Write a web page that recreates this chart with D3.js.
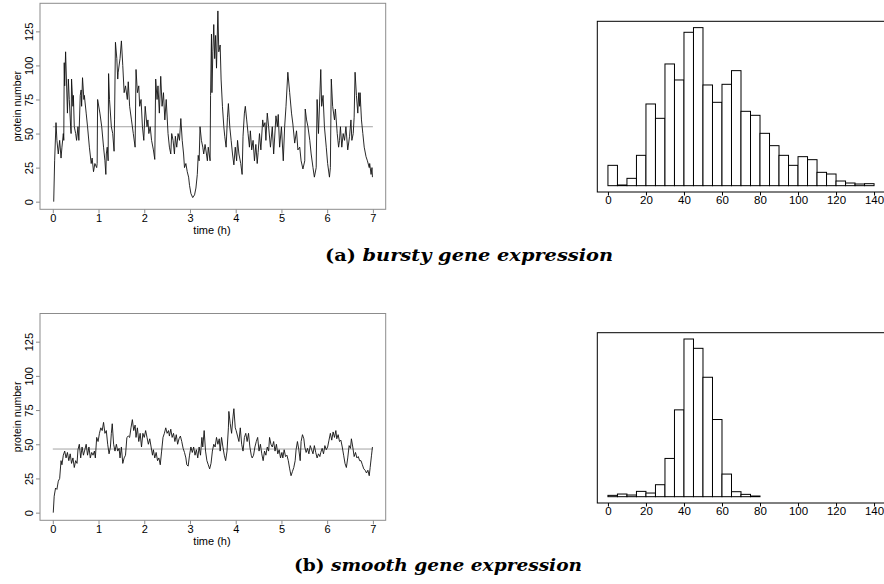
<!DOCTYPE html>
<html>
<head>
<meta charset="utf-8">
<script src="https://cdn.jsdelivr.net/npm/d3@7"></script>
<style>
  body { margin: 0; background: #fff; }
  svg text { font-family: "Liberation Sans", Arial, sans-serif; fill: #000; }
</style>
</head>
<body>
<div id="chart"></div>
<script>
// trajectories: [time (h), protein number]
const burstyTrace = [[0.02,0],[0.04,30],[0.07,58],[0.09,45],[0.12,35],[0.15,45],[0.18,32],[0.20,40],[0.23,50],[0.24,45],[0.25,102],[0.26,85],[0.28,110],[0.32,65],[0.34,90],[0.36,75],[0.39,55],[0.40,50],[0.41,90],[0.44,70],[0.45,78],[0.47,55],[0.50,50],[0.52,45],[0.55,55],[0.57,45],[0.60,78],[0.62,82],[0.63,70],[0.65,91],[0.68,75],[0.69,78],[0.73,65],[0.76,55],[0.80,40],[0.84,28],[0.86,32],[0.89,22],[0.92,28],[0.96,25],[0.97,28],[0.98,75],[1.03,65],[1.07,55],[1.11,40],[1.14,30],[1.16,20],[1.17,35],[1.19,40],[1.21,30],[1.22,94],[1.24,75],[1.28,55],[1.31,50],[1.34,37],[1.35,60],[1.37,117],[1.40,105],[1.42,90],[1.43,95],[1.47,105],[1.50,118],[1.53,100],[1.56,80],[1.59,85],[1.63,75],[1.65,88],[1.68,70],[1.72,60],[1.76,50],[1.80,40],[1.82,97],[1.85,80],[1.88,85],[1.90,70],[1.93,75],[1.96,55],[1.99,45],[2.02,70],[2.06,55],[2.08,60],[2.10,50],[2.13,55],[2.16,45],[2.20,38],[2.23,31],[2.25,90],[2.28,75],[2.30,85],[2.33,65],[2.36,92],[2.39,70],[2.42,80],[2.45,60],[2.48,75],[2.52,50],[2.55,40],[2.58,35],[2.60,50],[2.63,45],[2.66,35],[2.68,48],[2.71,40],[2.74,50],[2.77,45],[2.80,61],[2.83,45],[2.86,35],[2.88,25],[2.91,28],[2.94,22],[2.97,18],[2.99,12],[3.02,6],[3.06,3],[3.10,5],[3.13,10],[3.16,20],[3.18,34],[3.20,30],[3.22,55],[3.25,45],[3.28,40],[3.30,35],[3.33,42],[3.36,35],[3.38,30],[3.40,40],[3.44,30],[3.45,78],[3.47,123],[3.48,80],[3.50,110],[3.52,130],[3.54,105],[3.56,122],[3.58,98],[3.61,140],[3.63,110],[3.66,115],[3.68,90],[3.71,70],[3.74,55],[3.76,48],[3.79,40],[3.82,62],[3.84,72],[3.87,55],[3.90,45],[3.93,35],[3.96,27],[3.99,40],[4.02,30],[4.04,45],[4.07,35],[4.11,28],[4.14,20],[4.16,48],[4.19,65],[4.21,70],[4.24,60],[4.27,50],[4.30,40],[4.32,52],[4.35,38],[4.38,45],[4.41,30],[4.44,42],[4.47,28],[4.49,36],[4.52,50],[4.55,38],[4.59,60],[4.61,55],[4.64,58],[4.66,45],[4.69,65],[4.72,55],[4.76,40],[4.80,55],[4.83,35],[4.88,63],[4.91,55],[4.93,64],[4.96,40],[5.00,55],[5.04,30],[5.07,55],[5.10,70],[5.14,95],[5.18,80],[5.22,65],[5.25,57],[5.29,43],[5.33,52],[5.36,38],[5.40,40],[5.43,30],[5.47,24],[5.51,30],[5.52,68],[5.55,60],[5.58,55],[5.62,45],[5.65,35],[5.69,25],[5.72,18],[5.76,25],[5.78,75],[5.81,50],[5.86,97],[5.88,70],[5.91,78],[5.94,55],[5.98,40],[6.01,28],[6.05,18],[6.07,25],[6.09,90],[6.12,70],[6.16,60],[6.18,68],[6.22,50],[6.25,40],[6.27,45],[6.29,55],[6.32,40],[6.35,50],[6.38,45],[6.41,55],[6.45,38],[6.49,48],[6.52,60],[6.54,45],[6.57,50],[6.59,62],[6.61,95],[6.64,78],[6.67,65],[6.69,80],[6.71,70],[6.72,80],[6.75,60],[6.78,50],[6.81,40],[6.85,33],[6.88,30],[6.92,25],[6.93,28],[6.96,20],[6.98,25],[6.99,18]];

const smoothTrace = [[0.01,0],[0.03,12],[0.06,18],[0.09,17],[0.12,23],[0.15,25],[0.18,38],[0.20,35],[0.23,42],[0.26,45],[0.29,40],[0.32,44],[0.35,38],[0.38,43],[0.41,36],[0.44,40],[0.47,33],[0.50,38],[0.53,36],[0.55,46],[0.58,50],[0.61,40],[0.64,48],[0.67,42],[0.70,46],[0.73,50],[0.76,42],[0.79,48],[0.82,40],[0.85,44],[0.88,42],[0.91,45],[0.93,40],[0.96,55],[0.99,52],[1.02,58],[1.05,62],[1.08,60],[1.11,66],[1.14,58],[1.17,60],[1.20,50],[1.23,43],[1.26,48],[1.28,58],[1.30,65],[1.33,50],[1.36,45],[1.39,50],[1.42,45],[1.45,47],[1.47,40],[1.50,48],[1.53,36],[1.56,40],[1.59,42],[1.62,55],[1.65,56],[1.68,55],[1.71,62],[1.74,68],[1.77,60],[1.80,64],[1.82,55],[1.85,62],[1.88,52],[1.91,58],[1.94,48],[1.97,58],[2.00,55],[2.03,60],[2.06,55],[2.09,50],[2.12,54],[2.15,48],[2.18,42],[2.20,46],[2.23,40],[2.26,44],[2.29,38],[2.32,40],[2.35,35],[2.38,45],[2.41,55],[2.44,58],[2.47,62],[2.50,58],[2.53,60],[2.55,56],[2.58,61],[2.61,55],[2.64,58],[2.67,52],[2.70,57],[2.73,50],[2.76,54],[2.79,56],[2.82,52],[2.85,47],[2.88,44],[2.91,40],[2.93,35],[2.96,34],[2.99,42],[3.02,48],[3.05,44],[3.08,48],[3.11,42],[3.14,46],[3.17,40],[3.20,48],[3.23,42],[3.26,55],[3.28,48],[3.31,60],[3.34,45],[3.37,38],[3.40,35],[3.43,32],[3.46,36],[3.49,45],[3.52,50],[3.55,48],[3.58,55],[3.61,50],[3.64,54],[3.66,45],[3.69,55],[3.72,48],[3.75,42],[3.78,38],[3.81,45],[3.84,62],[3.85,74],[3.88,65],[3.91,58],[3.94,70],[3.96,76],[3.99,62],[4.01,60],[4.04,56],[4.07,52],[4.10,62],[4.13,50],[4.16,45],[4.19,55],[4.22,58],[4.25,52],[4.28,58],[4.31,48],[4.34,42],[4.36,40],[4.39,42],[4.42,48],[4.45,52],[4.48,55],[4.51,45],[4.54,50],[4.57,43],[4.60,38],[4.63,45],[4.66,42],[4.69,48],[4.72,45],[4.74,55],[4.77,50],[4.80,48],[4.83,52],[4.86,45],[4.89,50],[4.92,43],[4.95,46],[4.98,40],[5.01,44],[5.03,40],[5.06,46],[5.09,41],[5.12,42],[5.15,38],[5.18,32],[5.21,27],[5.24,30],[5.27,33],[5.30,38],[5.32,46],[5.35,52],[5.38,46],[5.41,38],[5.43,52],[5.46,57],[5.49,54],[5.51,48],[5.54,44],[5.57,47],[5.60,43],[5.63,49],[5.66,46],[5.69,43],[5.72,49],[5.75,44],[5.78,40],[5.81,43],[5.84,41],[5.86,44],[5.89,47],[5.92,43],[5.95,49],[5.98,46],[6.01,48],[6.04,53],[6.07,58],[6.10,53],[6.13,59],[6.16,55],[6.19,60],[6.21,54],[6.24,57],[6.27,52],[6.30,53],[6.33,48],[6.36,42],[6.39,36],[6.42,33],[6.45,40],[6.48,49],[6.51,47],[6.53,54],[6.56,48],[6.59,41],[6.62,44],[6.65,40],[6.68,41],[6.71,38],[6.74,38],[6.77,35],[6.80,32],[6.83,31],[6.86,29],[6.89,31],[6.92,27],[6.94,33],[6.97,42],[6.99,48]];

// mean levels (grey horizontal lines)
const burstyMean = 55;
const smoothMean = 46.5;

// histogram bins (left edge, width 5) and counts
const binStarts = [0,5,10,15,20,25,30,35,40,45,50,55,60,65,70,75,80,85,90,95,100,105,110,115,120,125,130,135];
const binWidth = 5;
const burstyCounts = [61,2,22,91,245,202,365,317,460,474,302,250,304,345,223,211,157,120,91,61,87,78,40,35,14,8,5,6];
const smoothCounts = [4,8,5,16,11,36,115,261,474,446,359,232,68,15,7,2];

// tick labels
const timeTicks = [0,1,2,3,4,5,6,7];
const proteinTicks = [0,25,50,75,100,125];
const binTicks = [0,20,40,60,80,100,120,140];

const svg = d3.select("#chart")
    .append("svg")
    .attr("width", 884)
    .attr("height", 584);

const frameGrey = "#8c8c8c";

function tracePanel(data, mean, top, bottom) {
  const x = d3.scaleLinear().domain([-0.28, 7.28]).range([40, 385.7]);
  const y = d3.scaleLinear().domain([-5.6, 145.6]).range([bottom, top]);
  const g = svg.append("g");

  // mean line
  g.append("line")
      .attr("x1", x(0)).attr("x2", x(7))
      .attr("y1", y(mean)).attr("y2", y(mean))
      .attr("stroke", "#9a9a9a")
      .attr("stroke-width", 0.9);

  // trajectory
  g.append("path")
      .datum(data)
      .attr("fill", "none")
      .attr("stroke", "#111")
      .attr("stroke-width", 0.9)
      .attr("stroke-linejoin", "round")
      .attr("d", d3.line().x(d => x(d[0])).y(d => y(d[1])));

  // box
  g.append("rect")
      .attr("x", x.range()[0]).attr("y", top)
      .attr("width", x.range()[1] - x.range()[0])
      .attr("height", bottom - top)
      .attr("fill", "none")
      .attr("stroke", frameGrey);

  // x axis
  const xa = g.append("g")
      .attr("transform", `translate(0,${bottom})`)
      .attr("color", frameGrey)
      .call(d3.axisBottom(x).tickValues(timeTicks).tickSize(4).tickPadding(1));
  xa.select(".domain").remove();
  xa.selectAll("text").style("font-size", "11px").attr("fill", "#000");

  // y axis, labels turned like R's default
  const ya = g.append("g")
      .attr("transform", `translate(${x.range()[0]},0)`)
      .attr("color", frameGrey)
      .call(d3.axisLeft(y).tickValues(proteinTicks).tickSize(4));
  ya.select(".domain").remove();
  ya.selectAll("text")
      .attr("x", null).attr("dy", null)
      .attr("text-anchor", "middle")
      .attr("transform", "translate(-7,0) rotate(-90)")
      .style("font-size", "11px")
      .attr("fill", "#000");

  g.append("text")
      .attr("x", 212).attr("y", bottom + 24.5)
      .attr("text-anchor", "middle")
      .style("font-size", "11px")
      .text("time (h)");

  g.append("text")
      .attr("transform", `translate(21,${(top + bottom) / 2}) rotate(-90)`)
      .attr("text-anchor", "middle")
      .style("font-size", "10.5px")
      .text("protein number");
}

function histPanel(counts, top, bottom) {
  const x = d3.scaleLinear().domain([-5.6, 145.6]).range([597.3, 884.7]);
  const maxC = d3.max(counts);
  const y = d3.scaleLinear().domain([-0.04 * maxC, 1.04 * maxC]).range([bottom, top]);
  const g = svg.append("g");

  g.selectAll(".bar")
      .data(counts)
      .enter()
      .append("rect")
      .attr("class", "bar")
      .attr("x", (d, i) => x(binStarts[i]))
      .attr("y", d => y(d))
      .attr("width", x(binWidth) - x(0))
      .attr("height", d => y(0) - y(d))
      .attr("fill", "#fff")
      .attr("stroke", "#000")
      .attr("stroke-width", 1);

  g.append("rect")
      .attr("x", x.range()[0]).attr("y", top)
      .attr("width", x.range()[1] - x.range()[0])
      .attr("height", bottom - top)
      .attr("fill", "none")
      .attr("stroke", "#000");

  const xa = g.append("g")
      .attr("transform", `translate(0,${bottom})`)
      .call(d3.axisBottom(x).tickValues(binTicks).tickSize(3.5).tickPadding(0));
  xa.select(".domain").remove();
  xa.selectAll("text").style("font-size", "11.5px");
}

function caption(tag, words, x0, baseline) {
  const t = svg.append("text")
      .attr("x", x0).attr("y", baseline)
      .attr("textLength", 288)
      .attr("lengthAdjust", "spacingAndGlyphs")
      .style("font-family", "'DejaVu Serif', 'Liberation Serif', serif")
      .style("font-size", "17.5px")
      .style("font-weight", "bold");
  t.append("tspan").text(tag + " ");
  t.append("tspan").style("font-style", "italic").text(words);
}

tracePanel(burstyTrace, burstyMean, 3.3, 209.3);
histPanel(burstyCounts, 21.3, 192);
caption("(a)", "bursty gene expression", 325, 261);

tracePanel(smoothTrace, smoothMean, 313.5, 520.3);
histPanel(smoothCounts, 332.7, 503);
caption("(b)", "smooth gene expression", 294, 571);
</script>
</body>
</html>
